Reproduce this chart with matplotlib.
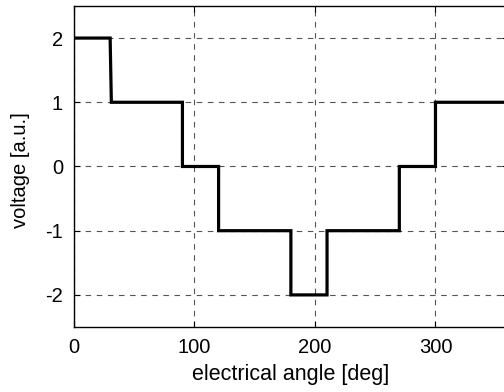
import matplotlib
matplotlib.use("Agg")
import matplotlib.pyplot as plt

# stepped phase voltage over one electrical period
angle = [0, 30, 31, 90, 90, 120, 120, 180, 180, 210, 210, 270, 270, 300, 300, 360]
voltage = [2, 2, 1, 1, 0, 0, -1, -1, -2, -2, -1, -1, 0, 0, 1, 1]

xticks = [0, 100, 200, 300]
yticks = [-2, -1, 0, 1, 2]
ytick_labels = ["-2", "-1", "0", "1", "2"]

plt.rcParams["font.family"] = ["Liberation Sans", "DejaVu Sans"]

fig = plt.figure(figsize=(5.04, 3.92), dpi=100)
ax = fig.add_axes([0.1468, 0.1658, 0.8607, 0.819])

ax.plot(angle, voltage, color="black", lw=2.3, solid_joinstyle="miter")
ax.set_xlim(0, 360)
ax.set_ylim(-2.5, 2.5)
ax.set_xticks(xticks)
ax.set_yticks(yticks)
ax.set_yticklabels(ytick_labels)
ax.grid(True, color="#555555", ls=(0, (5, 5)), lw=0.8)
ax.tick_params(direction="in", length=4, labelsize=14.5, top=True, right=True,
               pad=8)
for s in ax.spines.values():
    s.set_linewidth(1.0)
ax.set_xlabel("electrical angle [deg]", fontsize=15.5, labelpad=5)
ax.set_ylabel("voltage [a.u.]", fontsize=14.5)
ax.yaxis.set_label_coords(-0.102, 0.49)

fig.savefig("out.png", dpi=100)
